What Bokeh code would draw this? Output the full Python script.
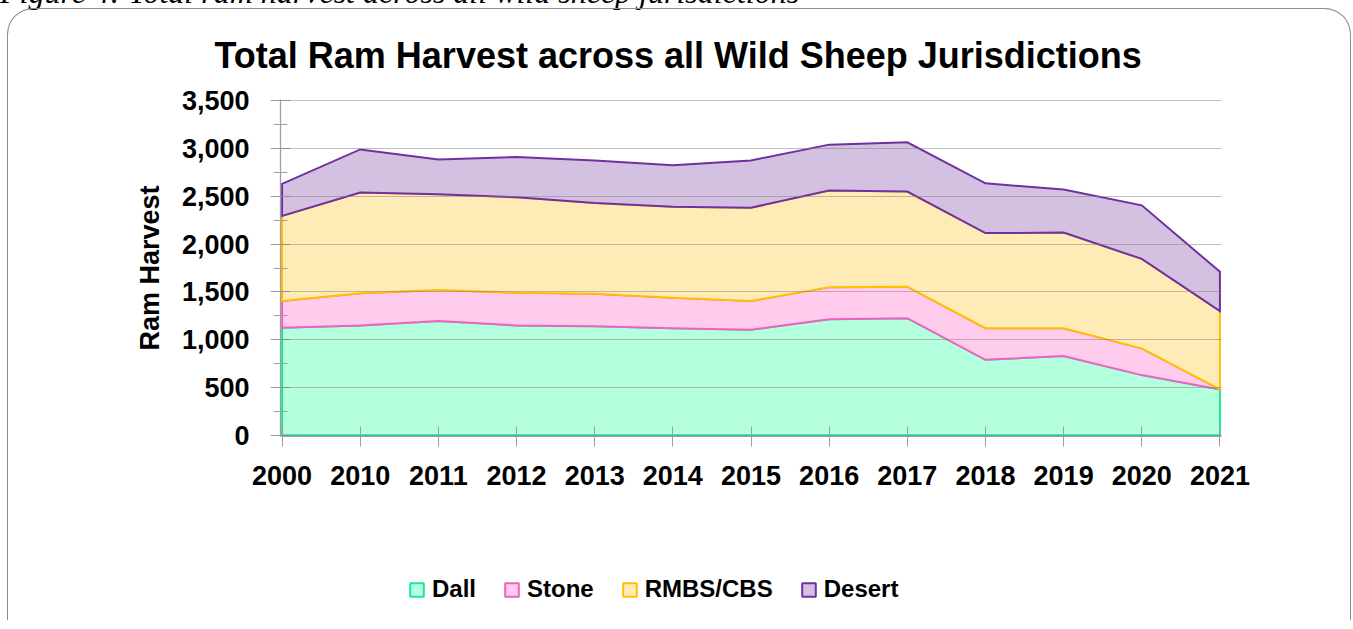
import numpy as np
from bokeh.plotting import figure
from bokeh.models import Range1d, FixedTicker, Legend, LegendItem, Div
from bokeh.layouts import column
from bokeh.embed import file_html
from bokeh.resources import INLINE

# ---- data ----
years = ["2000", "2010", "2011", "2012", "2013", "2014", "2015",
         "2016", "2017", "2018", "2019", "2020", "2021"]
dall = [1125, 1150, 1195, 1150, 1140, 1120, 1105, 1215, 1225, 790, 830, 630, 480]
stone = [280, 335, 325, 340, 340, 320, 300, 335, 330, 330, 290, 280, 0]
rmbs_cbs = [890, 1055, 1000, 1000, 950, 950, 975, 1010, 995, 995, 1000, 935, 820]
desert = [335, 450, 365, 420, 445, 435, 495, 480, 515, 520, 450, 560, 410]
series_names = ["Dall", "Stone", "RMBS/CBS", "Desert"]
y_ticks = [0, 500, 1000, 1500, 2000, 2500, 3000, 3500]
y_minor = [250, 750, 1250, 1750, 2250, 2750, 3250]
title_text = "Total Ram Harvest across all Wild Sheep Jurisdictions"
caption_text = "Figure 4: Total ram harvest across all wild sheep jurisdictions"

fills = ["#B3FFDE", "#FFCCEE", "#FFEBB5", "#D4C0E1"]
lines = ["#1FE59A", "#F062C0", "#FFC000", "#7030A0"]

FONT = "Liberation Sans"
EDGE = "#8C8C8C"

x = np.arange(len(years))
vals = np.array([dall, stone, rmbs_cbs, desert], dtype=float)
tops = np.cumsum(vals, axis=0)
bottoms = np.vstack([np.zeros(len(years)), tops[:-1]])

# ---------------- main chart ----------------
p = figure(width=1342, height=500, output_backend="svg", toolbar_location=None,
           x_range=Range1d(-0.02, 12.02), y_range=Range1d(-12, 3512),
           min_border_left=272, min_border_right=129,
           min_border_top=90, min_border_bottom=73,
           margin=(0, 0, 0, 8))
p.border_fill_color = None
p.background_fill_color = "white"
p.outline_line_color = None
p.styles = {
    "border-radius": "25px 25px 0 0",
    "box-shadow": f"-1px 0 0 0 {EDGE}, 1px 0 0 0 {EDGE}, 0 -1px 0 0 {EDGE}",
}

for i in range(4):
    xs = list(x) + list(x[::-1])
    ys = list(tops[i]) + list(bottoms[i][::-1])
    p.patch(xs, ys, fill_color=fills[i], line_color=lines[i], line_width=2,
            line_join="miter")

# title
p.title.text = title_text
p.title.text_font = FONT
p.title.text_font_size = "36px"
p.title.text_font_style = "bold"
p.title.text_color = "black"
p.title.align = "left"
p.title.offset = -66
p.title.standoff = 47

# axes
xa = p.xaxis[0]
xa.ticker = FixedTicker(ticks=list(range(len(years))))
xa.major_label_overrides = {i: y for i, y in enumerate(years)}
xa.major_label_text_font = FONT
xa.major_label_text_font_size = "27px"
xa.major_label_text_font_style = "bold"
xa.major_label_text_color = "black"
xa.major_label_standoff = 19
xa.axis_line_color = "#A0A0A0"
xa.major_tick_line_color = "#A0A0A0"
xa.major_tick_in = 10
xa.major_tick_out = 10
xa.minor_tick_line_color = None

ya = p.yaxis[0]
ya.ticker = FixedTicker(ticks=y_ticks, minor_ticks=y_minor)
ya.major_label_overrides = {t: f"{t:,}" for t in y_ticks}
ya.major_label_text_font = FONT
ya.major_label_text_font_size = "27px"
ya.major_label_text_font_style = "bold"
ya.major_label_text_color = "black"
ya.major_label_standoff = 21
ya.axis_label = "Ram Harvest"
ya.axis_label_text_font = FONT
ya.axis_label_text_font_size = "27px"
ya.axis_label_text_font_style = "bold"
ya.axis_label_text_color = "black"
ya.axis_label_standoff = 14
ya.axis_line_color = "#A0A0A0"
ya.axis_line_width = 1.3
ya.major_tick_line_color = "#A0A0A0"
ya.minor_tick_line_color = "#A0A0A0"
ya.major_tick_in = 10
ya.major_tick_out = 10
ya.minor_tick_in = 7
ya.minor_tick_out = 7

p.xgrid.grid_line_color = None
p.ygrid.ticker = FixedTicker(ticks=y_ticks)
p.ygrid.grid_line_color = "#7F7F7F"
p.ygrid.grid_line_alpha = 0.5
p.ygrid.level = "overlay"

# ---------------- legend strip (continues the chart box) ----------------
lg = figure(width=1342, height=111, output_backend="svg", toolbar_location=None,
            x_range=Range1d(100, 101), y_range=Range1d(100, 101),
            x_axis_type=None, y_axis_type=None,
            min_border_left=0, min_border_right=0, min_border_top=0,
            min_border_bottom=0, margin=(0, 0, 0, 8))
lg.border_fill_color = None
lg.background_fill_color = None
lg.outline_line_color = None
lg.grid.visible = False
lg.styles = {"box-shadow": f"-1px 0 0 0 {EDGE}, 1px 0 0 0 {EDGE}"}

leg_renderers = []
for i in range(4):
    xs = list(x) + list(x[::-1])
    ys = list(tops[i]) + list(bottoms[i][::-1])
    leg_renderers.append(lg.patch(xs, ys, fill_color=fills[i], line_color=lines[i],
                                  line_width=2))

legend = Legend(
    items=[LegendItem(label=n, renderers=[r]) for n, r in zip(series_names, leg_renderers)],
    location=(128, 17), orientation="horizontal",
    label_text_font=FONT, label_text_font_size="24px", label_text_font_style="bold",
    label_text_color="black",
    glyph_width=17, glyph_height=17, label_standoff=7, spacing=27,
    padding=0, margin=0, border_line_color=None, background_fill_alpha=0,
)
lg.add_layout(legend)

caption = Div(
    text=('<div style="font-family:\'Liberation Serif\';font-style:italic;'
          'font-size:32px;line-height:34px;white-space:nowrap;color:black;">'
          + caption_text + '</div>'),
    width=900, height=34, margin=(-25, 0, 0, 0),
)

layout = column(caption, p, lg)
open("out.html", "w").write(file_html(layout, INLINE))
